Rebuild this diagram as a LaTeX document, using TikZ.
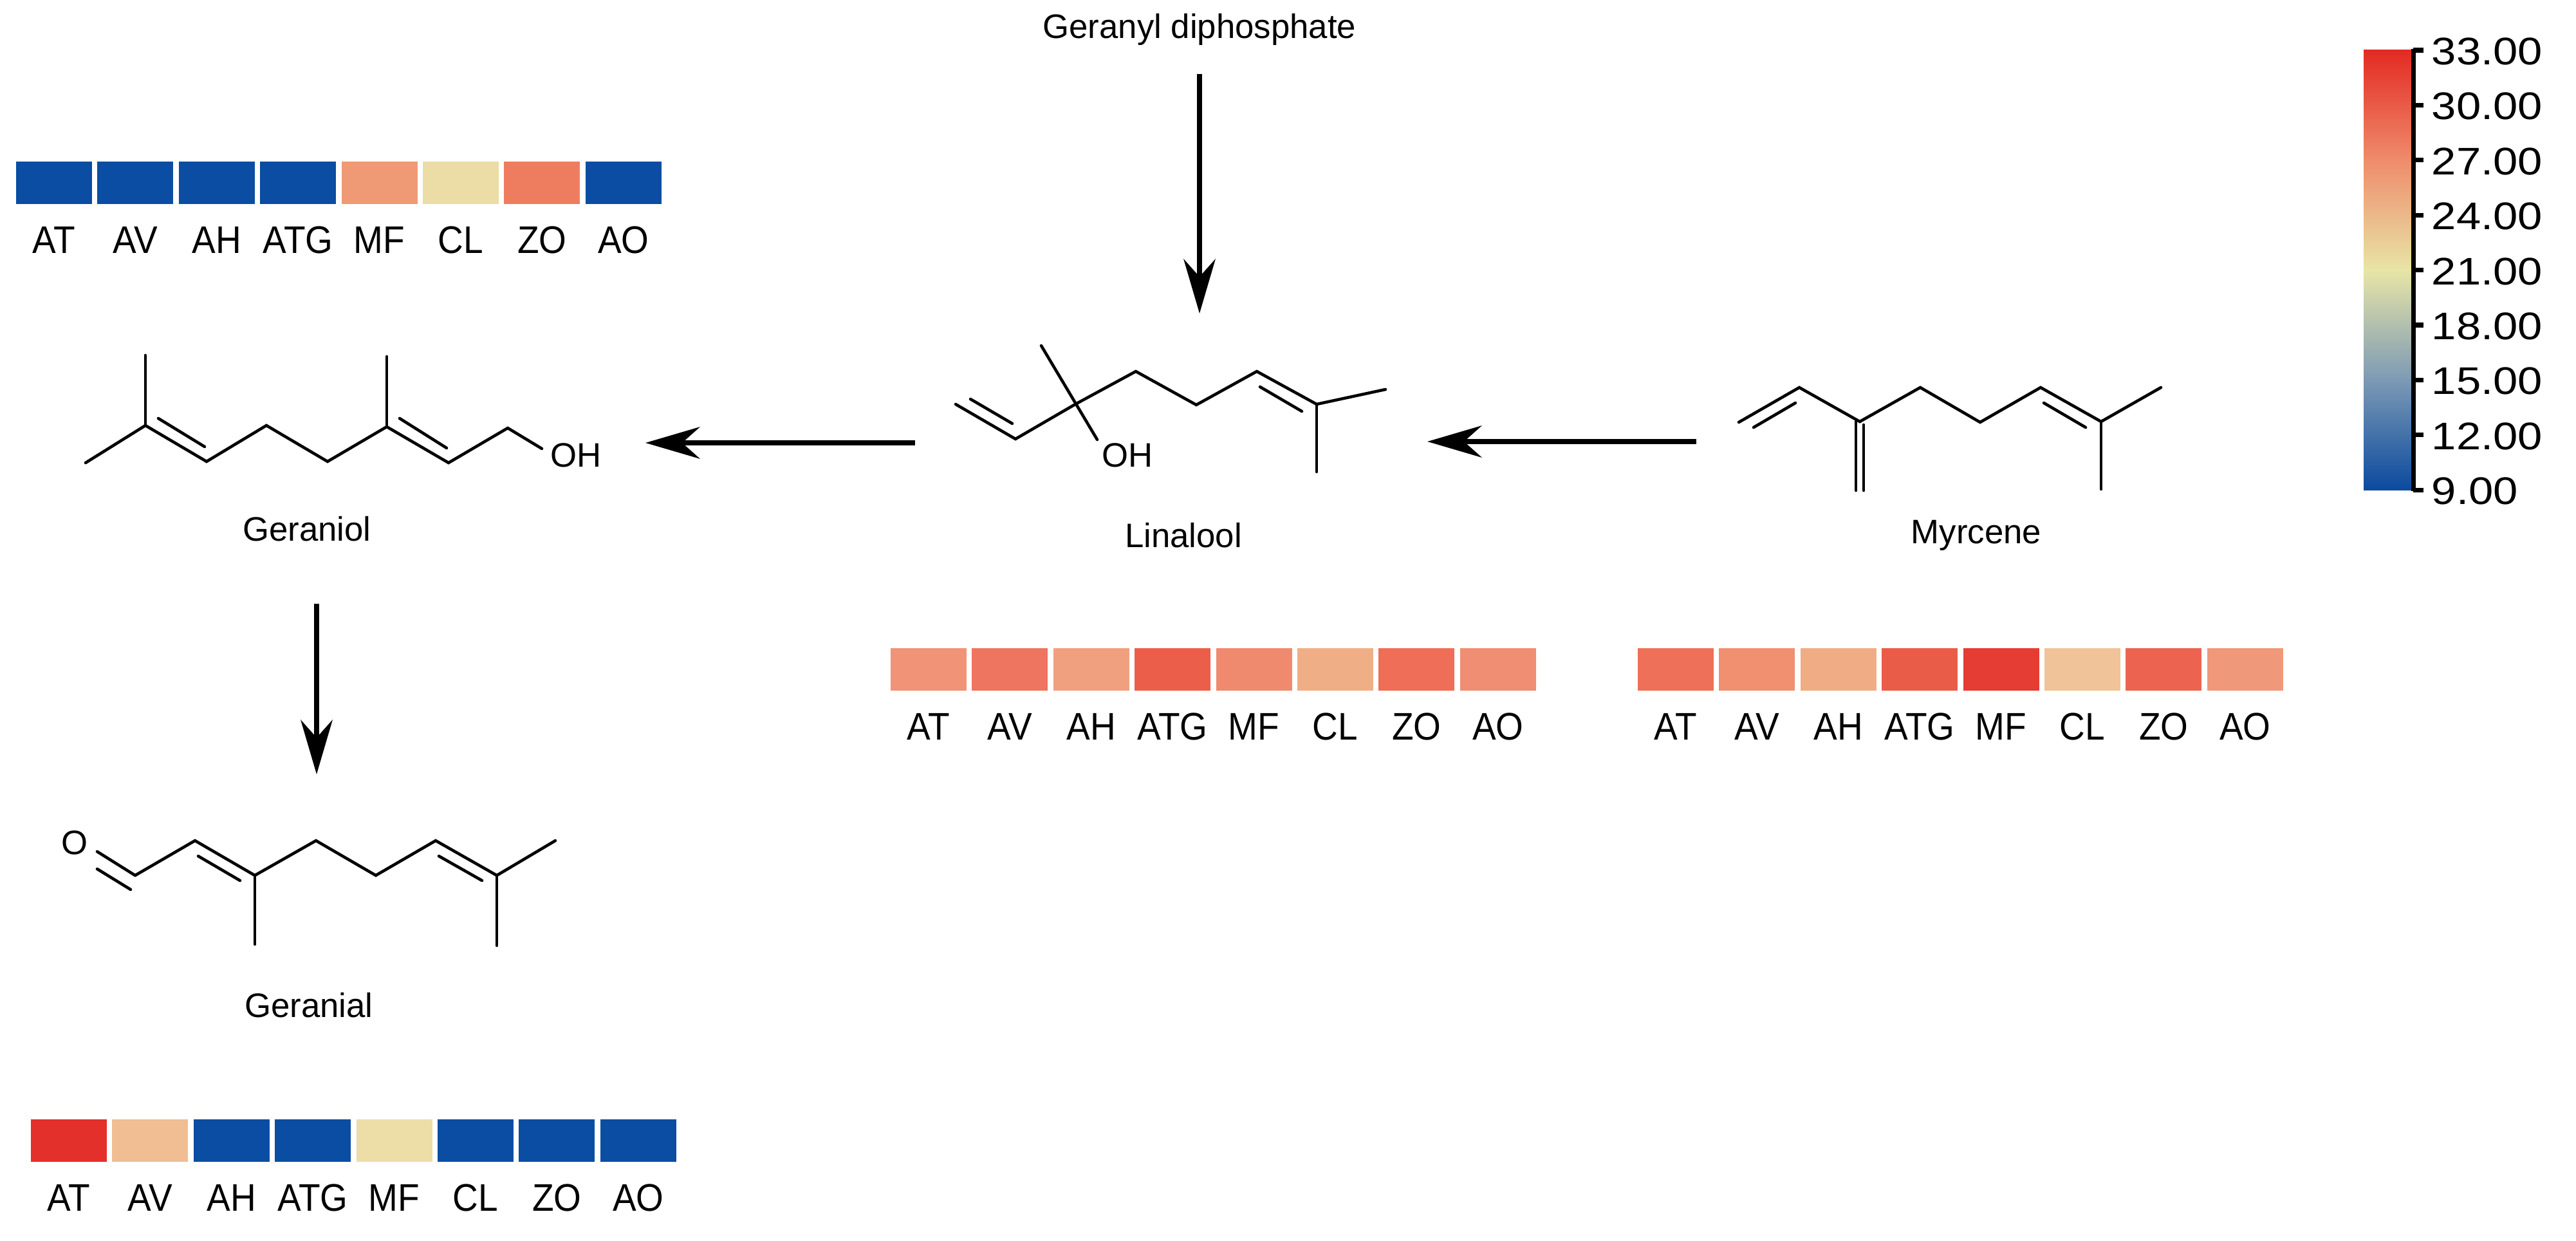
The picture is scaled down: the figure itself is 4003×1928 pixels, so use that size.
\documentclass[tikz,border=0pt]{standalone}
\usepackage{fontspec}
\setmainfont{Liberation Sans}
\usetikzlibrary{arrows.meta}
\definecolor{hb}{HTML}{0A4DA2}
\definecolor{cbA}{HTML}{E32A22}\definecolor{cbB}{HTML}{E8563F}\definecolor{cbC}{HTML}{EF8C6C}
\definecolor{cbD}{HTML}{F0BE8B}\definecolor{cbE}{HTML}{E8E5A6}\definecolor{cbF}{HTML}{B5C0B0}
\definecolor{cbG}{HTML}{7D9AB5}\definecolor{cbH}{HTML}{3A68A8}\definecolor{cbI}{HTML}{0B4A9E}
\newcommand{\hmrow}[4]{% name, x0, y0, colours
  \foreach \c [count=\i from 0] in {#4}{
    \fill[fill=\c] ({#2+\i*126.4},#3) rectangle ++(118,66);
  }
  \foreach \t [count=\i from 0] in {AT,AV,AH,ATG,MF,CL,ZO,AO}{
    \node[lbl,hml] (#1-\i) at ({#2+59+\i*126.4},#3+122) {\t};
  }
}
\begin{document}
\begin{tikzpicture}[x=0.01cm,y=-0.01cm,
  bond/.style={line width=1.3pt,line cap=round},
  rarr/.style={line width=2.4pt,-{Stealth[length=24pt,width=14pt]}},
  lbl/.style={font=\fontsize{15}{18}\selectfont,inner sep=0pt},
  hml/.style={font=\fontsize{17}{20}\selectfont,xscale=0.92},
  cbl/.style={font=\fontsize{17}{20}\selectfont,inner sep=0pt,anchor=west,xscale=1.15}]
\useasboundingbox (0,0) rectangle (4003,1928);
% heatmaps
\hmrow{g}{25}{251}{hb,hb,hb,hb,{rgb,255:red,239;green,154;blue,117},{rgb,255:red,236;green,220;blue,165},{rgb,255:red,238;green,125;blue,96},hb}
\hmrow{l}{1384}{1007}{{rgb,255:red,240;green,147;blue,119},{rgb,255:red,238;green,117;blue,96},{rgb,255:red,240;green,160;blue,126},{rgb,255:red,235;green,94;blue,74},{rgb,255:red,239;green,138;blue,110},{rgb,255:red,240;green,174;blue,134},{rgb,255:red,238;green,110;blue,87},{rgb,255:red,239;green,142;blue,114}}
\hmrow{m}{2545}{1007}{{rgb,255:red,238;green,112;blue,88},{rgb,255:red,240;green,144;blue,112},{rgb,255:red,240;green,172;blue,133},{rgb,255:red,233;green,92;blue,72},{rgb,255:red,229;green,60;blue,51},{rgb,255:red,240;green,195;blue,152},{rgb,255:red,236;green,100;blue,80},{rgb,255:red,240;green,153;blue,122}}
\hmrow{a}{48}{1739}{{rgb,255:red,227;green,48;blue,42},{rgb,255:red,241;green,189;blue,147},hb,hb,{rgb,255:red,237;green,222;blue,168},hb,hb,hb}
% colour bar
\shade[top color=cbA,bottom color=cbC] (3673,78) rectangle (3748,250);
\shade[top color=cbC,bottom color=cbE] (3673,249) rectangle (3748,420);
\shade[top color=cbE,bottom color=cbG] (3673,419) rectangle (3748,590);
\shade[top color=cbG,bottom color=cbI] (3673,589) rectangle (3748,761);
\draw[line width=2pt] (3750,76) -- (3750,763);
\foreach \v [count=\k from 0] in {33.00,30.00,27.00,24.00,21.00,18.00,15.00,12.00,9.00}{
  \draw[line width=2pt] (3750,{78+\k*85.4}) -- (3766,{78+\k*85.4});
  \node[cbl] (cb\k) at (3778,{80+\k*85.4}) {\v};
}
% Geraniol
\draw[bond] (133,719) -- (226,661) -- (321,717) -- (414,661) -- (509,717) -- (601,663) -- (697,719) -- (789,665) -- (842,697);
\draw[bond] (226,661) -- (226,552);
\draw[bond] (601,663) -- (601,554);
\draw[bond] (246,650) -- (318,694);
\draw[bond] (621,650) -- (694,696);
\node[lbl] (ohg) at (895,707) {OH};
\node[lbl] (geraniol) at (477,822) {Geraniol};
% Linalool
\draw[bond] (1485,628) -- (1578,682) -- (1671,628) -- (1765,577) -- (1859,629) -- (1953,577) -- (2046,628) -- (2153,605);
\draw[bond] (2046,628) -- (2046,733);
\draw[bond] (1618,537) -- (1705,683);
\draw[bond] (1508,620) -- (1573,658);
\draw[bond] (1958,601) -- (2023,639);
\node[lbl] (ohl) at (1752,707) {OH};
\node[lbl] (linalool) at (1839,832) {Linalool};
% Myrcene
\draw[bond] (2702,656) -- (2796,602) -- (2890,655) -- (2984,602) -- (3077,656) -- (3171,602) -- (3265,655) -- (3358,602);
\draw[bond] (2884,655) -- (2884,762);
\draw[bond] (2896,660) -- (2896,762);
\draw[bond] (3265,655) -- (3265,760);
\draw[bond] (2725,664) -- (2790,626);
\draw[bond] (3176,626) -- (3241,664);
\node[lbl] (myrcene) at (3071,832) {Myrcene};
% Geranial
\draw[bond] (210,1360) -- (303,1306) -- (396,1360) -- (491,1306) -- (584,1360) -- (677,1306) -- (772,1360) -- (863,1306);
\draw[bond] (396,1360) -- (396,1467);
\draw[bond] (772,1360) -- (772,1469);
\draw[bond] (210,1360) -- (151,1323);
\draw[bond] (203,1382) -- (151,1350);
\draw[bond] (308,1330) -- (373,1368);
\draw[bond] (682,1330) -- (749,1368);
\node[lbl] (o) at (116,1309) {O};
\node[lbl] (geranial) at (480,1562) {Geranial};
% top
\node[lbl] (gpp) at (1864,46) {Geranyl diphosphate};
% arrows
\coordinate (gppE) at (1864,115);
\coordinate (linS) at (1864,487);
\coordinate (myrA) at (2636,686);
\coordinate (linE) at (2218,686);
\coordinate (linA) at (1422,688);
\coordinate (gerE) at (1003,688);
\coordinate (gerA) at (492,938);
\coordinate (galE) at (492,1203);
\draw[rarr] (gppE) -- (linS);
\draw[rarr] (myrA) -- (linE);
\draw[rarr] (linA) -- (gerE);
\draw[rarr] (gerA) -- (galE);
\end{tikzpicture}
\end{document}
